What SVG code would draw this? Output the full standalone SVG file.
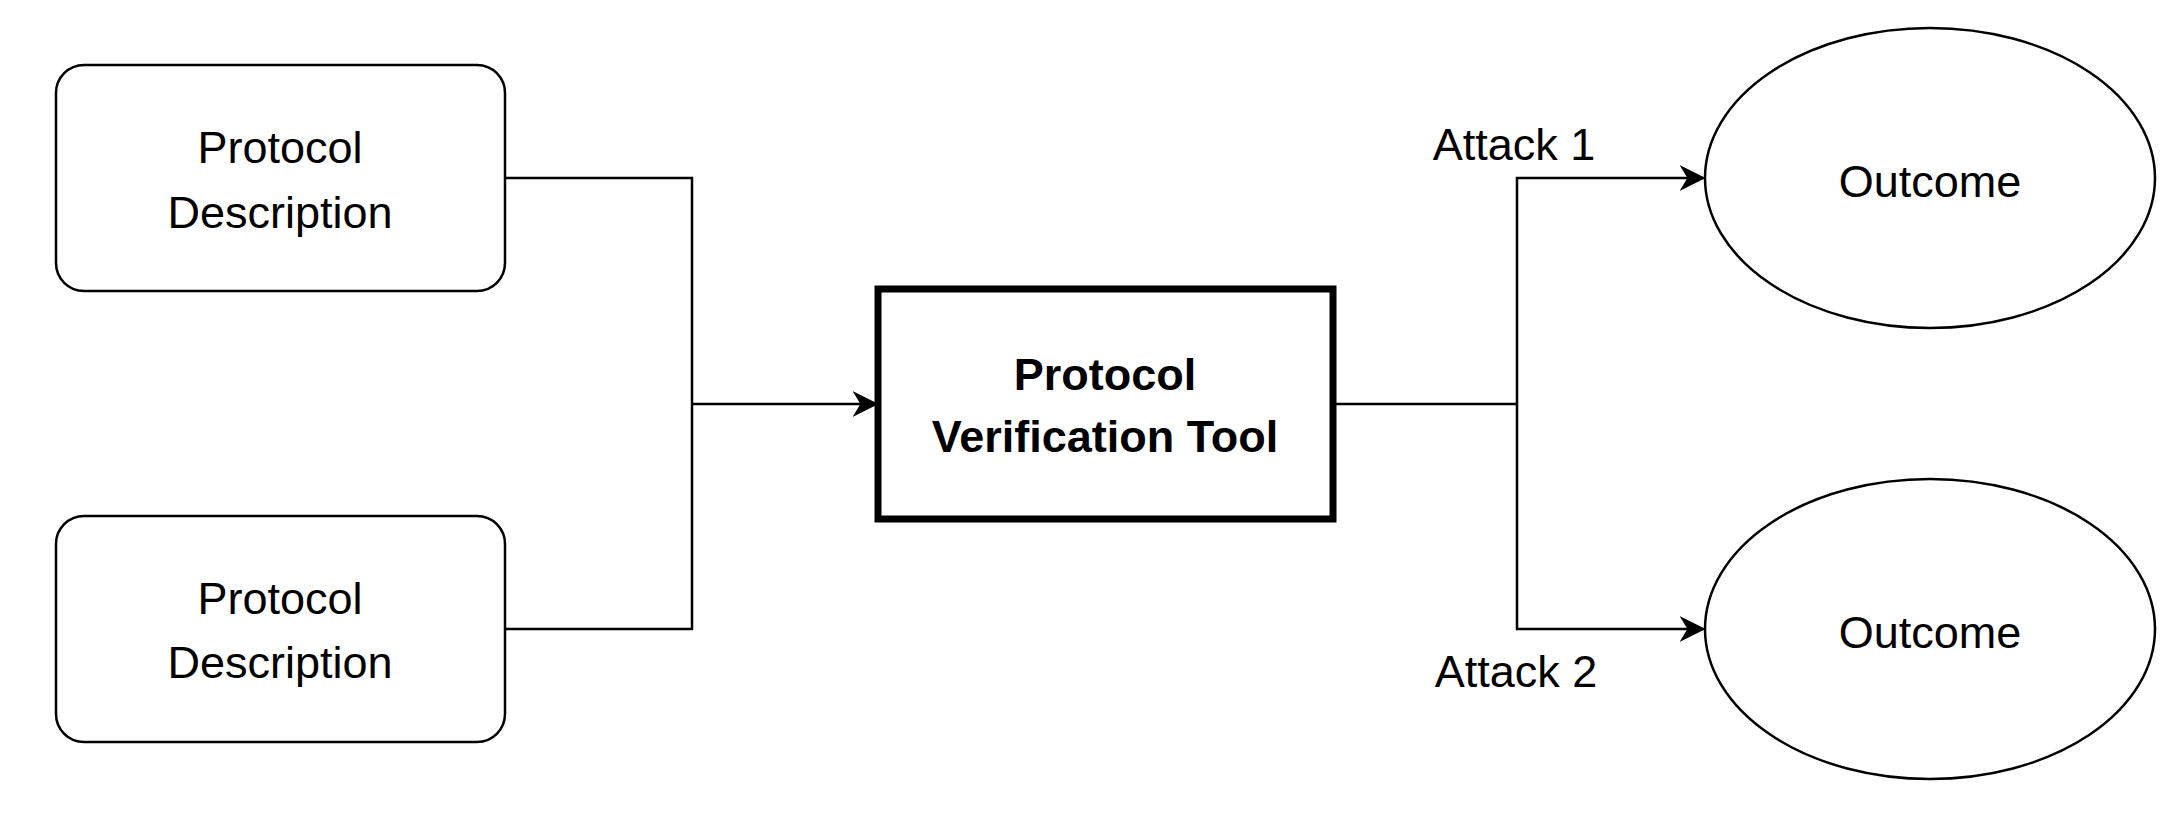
<svg xmlns="http://www.w3.org/2000/svg" width="2182" height="815" viewBox="0 0 2182 815">
<style>
text{font-family:"Liberation Sans",Arial,sans-serif;font-size:45px;fill:#000;text-anchor:middle}
.n{fill:#fff;stroke:#000;stroke-width:2.5}
.c{fill:none;stroke:#000;stroke-width:2.5}
</style>
<defs><marker id="a" viewBox="0 0 10 10" refX="9" refY="5" markerWidth="10" markerHeight="10" markerUnits="userSpaceOnUse" orient="auto"><path d="M0,0L10,5L0,10L3,5Z" fill="#000"/></marker>
<marker id="b" viewBox="0 0 10 10" refX="9" refY="5" markerWidth="26" markerHeight="26" markerUnits="userSpaceOnUse" orient="auto"><path d="M0,0L10,5L0,10L3,5Z" fill="#000"/></marker></defs>
<rect width="2182" height="815" fill="#fff"/>
<g id="connectors">
<path class="c" d="M505,178H692V629H505"/>
<path class="c" d="M692,404H876" marker-end="url(#b)"/>
<path class="c" d="M1333,404H1517"/>
<path class="c" d="M1517,404V178H1703" marker-end="url(#b)"/>
<path class="c" d="M1517,404V629H1703" marker-end="url(#b)"/>
</g>
<g id="desc1"><rect class="n" x="56" y="65" width="449" height="226" rx="28"/><text x="280" y="163">Protocol</text><text x="280" y="228">Description</text></g>
<g id="desc2"><rect class="n" x="56" y="516" width="449" height="226" rx="28"/><text x="280" y="614">Protocol</text><text x="280" y="678">Description</text></g>
<g id="tool"><rect x="878" y="289" width="455" height="230" fill="#fff" stroke="#000" stroke-width="7"/><text x="1105" y="390" font-weight="bold">Protocol</text><text x="1105" y="452" font-weight="bold">Verification Tool</text></g>
<g id="out1"><ellipse class="n" cx="1930" cy="178" rx="225" ry="150"/><text x="1930" y="197">Outcome</text></g>
<g id="out2"><ellipse class="n" cx="1930" cy="629" rx="225" ry="150"/><text x="1930" y="648">Outcome</text></g>
<g id="labels"><text x="1514" y="160">Attack 1</text><text x="1516" y="687">Attack 2</text></g>
</svg>
